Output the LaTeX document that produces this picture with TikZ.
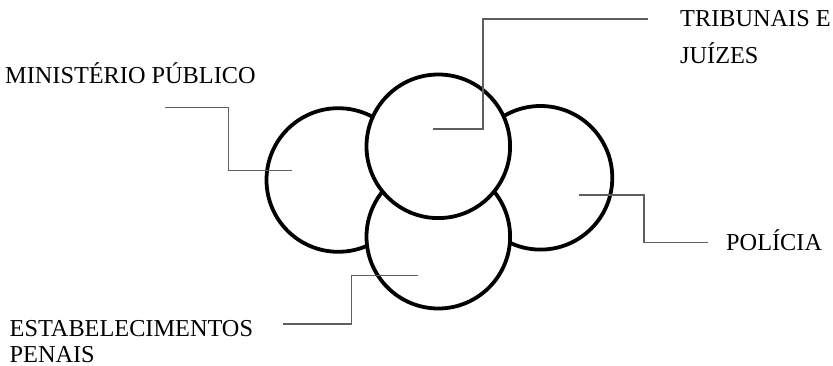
\documentclass[tikz,border=0pt]{standalone}
\usepackage{fontspec}
\setmainfont{Liberation Serif}
\definecolor{linkgray}{RGB}{95,95,95}
\begin{document}
\begin{tikzpicture}[x=1pt,y=-1pt,
  ring/.style={draw=black,fill=white,line width=3.8pt},
  link/.style={draw=linkgray,line width=1.2pt},
  lbl/.style={anchor=base west,inner sep=0pt,font=\fontsize{24.3}{29}\selectfont}]
\useasboundingbox (0,0) rectangle (833,366);
% circles
\draw[ring] (338.3,180) circle (71.8);
\draw[ring] (540.5,177.8) circle (71.8);
\draw[ring] (438.3,236.7) circle (71.8);
\draw[ring] (438.3,146.3) circle (71.8);
% anchor points inside circles
\coordinate (cmp) at (291.7,170.3);
\coordinate (ctj) at (432.7,129);
\coordinate (cpo) at (578.5,195);
\coordinate (ces) at (418.3,275.7);
% labels
\node[lbl] (mp) at (5,83.3) {MINISTÉRIO PÚBLICO};
\node[lbl] (tj1) at (680,26.7) {TRIBUNAIS E};
\node[lbl] (tj2) at (680,63.3) {JUÍZES};
\node[lbl] (po) at (726,250.7) {POLÍCIA};
\node[lbl] (es1) at (9.5,336.2) {ESTABELECIMENTOS};
\node[lbl] (es2) at (9.5,362.3) {PENAIS};
% connector free ends
\coordinate (emp) at (165,107.3);
\coordinate (etj) at (648,19);
\coordinate (epo) at (708.3,242.3);
\coordinate (ees) at (283.3,324);
% connectors
\draw[link] (emp) -| (228.3,170.3) -- (cmp);
\draw[link] (ctj) -| (483,19) -- (etj);
\draw[link] (cpo) -| (644,242.3) -- (epo);
\draw[link] (ces) -| (351.7,324) -- (ees);
\end{tikzpicture}
\end{document}
